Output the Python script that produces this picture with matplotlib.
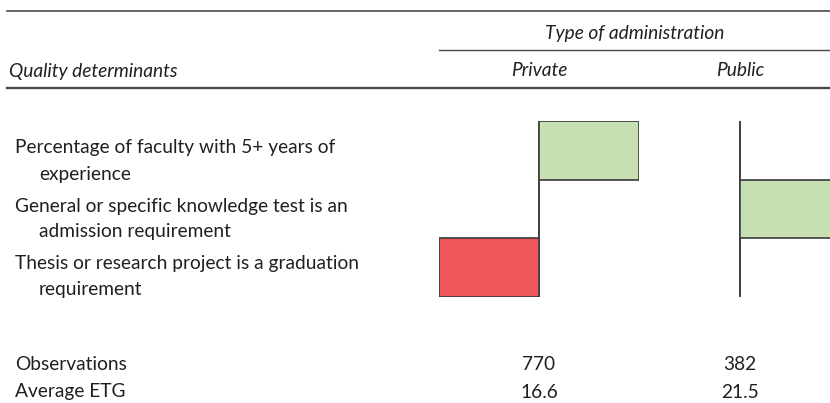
import numpy as np
import matplotlib
matplotlib.use('Agg')
import matplotlib.pyplot as plt
from matplotlib.lines import Line2D

plt.rcParams['font.family'] = ['Lato', 'DejaVu Sans']

W, H = 830, 403

determinants = [
    'Percentage of faculty with 5+ years of\nexperience',
    'General or specific knowledge test is an\nadmission requirement',
    'Thesis or research project is a graduation\nrequirement',
]
columns = ['Private', 'Public']
# sign of the association: +1 positive, -1 negative, 0 not significant
private_effect = [1, 0, -1]
public_effect = [0, 1, 0]
observations = [770, 382]
average_etg = [16.6, 21.5]

green = '#c6e0b4'
red = '#f0575a'
edge = '#3a3a3a'
text_col = '#231f20'


def fx(x):
    return x / W


def fy(y):
    return 1 - y / H


fig = plt.figure(figsize=(W / 100, H / 100), dpi=100)


def rule(x0, x1, y, lw):
    fig.add_artist(Line2D([fx(x0), fx(x1)], [fy(y), fy(y)], transform=fig.transFigure,
                          color='#4a4a4a', lw=lw))


rule(7, W, 11, 1.2)
rule(439, W, 50, 1.0)
rule(7, W, 88, 1.7)

fs = 13.8
fig.text(fx(635), fy(33), 'Type of administration', ha='center', va='center',
         fontsize=fs, style='italic', color=text_col)
fig.text(fx(9), fy(71), 'Quality determinants', ha='left', va='center',
         fontsize=fs, style='italic', color=text_col)
col_x = [539, 740]
for cx, name in zip(col_x, columns):
    fig.text(fx(cx), fy(71), name, ha='center', va='center',
             fontsize=fs, style='italic', color=text_col)

# row labels, second line indented
row_y = [148, 206, 264]
for y, lab in zip(row_y, determinants):
    first, second = lab.split('\n')
    fig.text(fx(15), fy(y), first, ha='left', va='center', fontsize=fs, color=text_col)
    fig.text(fx(39), fy(y + 26), second, ha='left', va='center', fontsize=fs, color=text_col)


def panel(left, right, xlim, vals):
    ax = fig.add_axes([fx(left), fy(297), (right - left) / W, 176 / H])
    rows = np.arange(len(vals))
    colors = [green if v > 0 else red for v in vals]
    ax.axvline(0, color='#555555', lw=1.2, zorder=1)
    ax.barh(rows, vals, height=1.0, color=colors, edgecolor=edge, linewidth=1.2, zorder=2)
    ax.set_xlim(*xlim)
    ax.set_ylim(len(vals) - 0.5, -0.5)
    ax.axis('off')
    return ax


panel(439, 639, (-1, 1), private_effect)
panel(640, W, (-1, 0.9), public_effect)

fig.text(fx(15), fy(364), 'Observations', ha='left', va='center', fontsize=fs, color=text_col)
fig.text(fx(15), fy(392), 'Average ETG', ha='left', va='center', fontsize=fs, color=text_col)
for cx, n, e in zip(col_x, observations, average_etg):
    fig.text(fx(cx), fy(364), f'{n}', ha='center', va='center', fontsize=fs, color=text_col)
    fig.text(fx(cx), fy(392), f'{e:.1f}', ha='center', va='center', fontsize=fs, color=text_col)

fig.savefig('out.png', dpi=100, facecolor='white')
